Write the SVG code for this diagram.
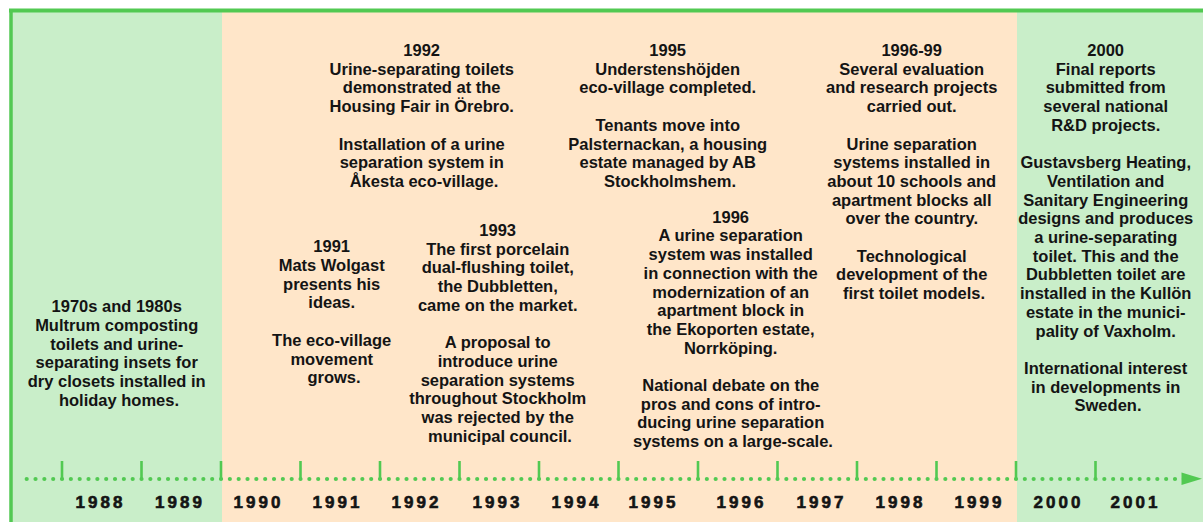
<svg xmlns="http://www.w3.org/2000/svg" width="1203" height="522" viewBox="0 0 1203 522">
<style>
.ev{font-family:"Liberation Sans",Arial,sans-serif;font-weight:bold;font-size:16.5px;fill:#141414;text-anchor:middle}
.yr{font-family:"Liberation Sans",Arial,sans-serif;font-weight:bold;font-size:17px;fill:#141414;stroke:#141414;stroke-width:0.6;text-anchor:middle;letter-spacing:3px}
.tick{stroke:#52c952;stroke-width:2.6}
</style>
<g id="background">
<rect x="0" y="0" width="1203" height="522" fill="#ffffff"/>
<rect x="11" y="10" width="211" height="512" fill="#c9eec9"/>
<rect x="222" y="10" width="795" height="512" fill="#ffe6c9"/>
<rect x="1017" y="10" width="186" height="512" fill="#c9eec9"/>
<line x1="9" y1="10.5" x2="1203" y2="10.5" stroke="#52c952" stroke-width="4"/>
<line x1="11" y1="9" x2="11" y2="522" stroke="#52c952" stroke-width="3.5"/>
</g>
<g id="connectors">
<line x1="26.7" y1="479" x2="1184" y2="479" stroke="#52c952" stroke-width="4.2" stroke-linecap="round" stroke-dasharray="0 8.833"/>
<line class="tick" x1="62" y1="461" x2="62" y2="480"/>
<line class="tick" x1="141.5" y1="461" x2="141.5" y2="480"/>
<line class="tick" x1="221" y1="461" x2="221" y2="480"/>
<line class="tick" x1="300.5" y1="461" x2="300.5" y2="480"/>
<line class="tick" x1="380" y1="461" x2="380" y2="480"/>
<line class="tick" x1="459.5" y1="461" x2="459.5" y2="480"/>
<line class="tick" x1="539" y1="461" x2="539" y2="480"/>
<line class="tick" x1="618.5" y1="461" x2="618.5" y2="480"/>
<line class="tick" x1="698" y1="461" x2="698" y2="480"/>
<line class="tick" x1="777.5" y1="461" x2="777.5" y2="480"/>
<line class="tick" x1="857" y1="461" x2="857" y2="480"/>
<line class="tick" x1="936.5" y1="461" x2="936.5" y2="480"/>
<line class="tick" x1="1016" y1="461" x2="1016" y2="480"/>
<line class="tick" x1="1095.5" y1="461" x2="1095.5" y2="480"/>
<polygon points="1181.5,472.5 1202,478.8 1181.5,485" fill="#52c952"/>
</g>
<g id="years">
<text class="yr" x="100.5" y="508">1988</text>
<text class="yr" x="180" y="508">1989</text>
<text class="yr" x="258.5" y="508">1990</text>
<text class="yr" x="337.5" y="508">1991</text>
<text class="yr" x="416.5" y="508">1992</text>
<text class="yr" x="497.5" y="508">1993</text>
<text class="yr" x="576.5" y="508">1994</text>
<text class="yr" x="653.5" y="508">1995</text>
<text class="yr" x="741.5" y="508">1996</text>
<text class="yr" x="821.5" y="508">1997</text>
<text class="yr" x="900.5" y="508">1998</text>
<text class="yr" x="979.5" y="508">1999</text>
<text class="yr" x="1058.5" y="508">2000</text>
<text class="yr" x="1135.5" y="508">2001</text>
</g>
<g id="event-1970s">
<text class="ev" y="311.7">
<tspan x="119">1970s and 1980s</tspan>
<tspan x="119" dy="18.9">Multrum composting</tspan>
<tspan x="119" dy="18.9">toilets and urine-</tspan>
<tspan x="119" dy="18.9">separating insets for</tspan>
<tspan x="119" dy="18.9">dry closets installed in</tspan>
<tspan x="119" dy="18.9">holiday homes.</tspan>
</text>
</g>
<g id="event-1991">
<text class="ev" y="252.3">
<tspan x="334">1991</tspan>
<tspan x="334" dy="18.7">Mats Wolgast</tspan>
<tspan x="334" dy="18.7">presents his</tspan>
<tspan x="334" dy="18.7">ideas.</tspan>
<tspan x="334" dy="37.4">The eco-village</tspan>
<tspan x="334" dy="18.7">movement</tspan>
<tspan x="334" dy="18.7">grows.</tspan>
</text>
</g>
<g id="event-1992">
<text class="ev" y="56">
<tspan x="424">1992</tspan>
<tspan x="424" dy="18.7">Urine-separating toilets</tspan>
<tspan x="424" dy="18.7">demonstrated at the</tspan>
<tspan x="424" dy="18.7">Housing Fair in Örebro.</tspan>
<tspan x="424" dy="37.4">Installation of a urine</tspan>
<tspan x="424" dy="18.7">separation system in</tspan>
<tspan x="424" dy="18.7">Åkesta eco-village.</tspan>
</text>
</g>
<g id="event-1993">
<text class="ev" y="236">
<tspan x="500">1993</tspan>
<tspan x="500" dy="18.7">The first porcelain</tspan>
<tspan x="500" dy="18.7">dual-flushing toilet,</tspan>
<tspan x="500" dy="18.7">the Dubbletten,</tspan>
<tspan x="500" dy="18.7">came on the market.</tspan>
<tspan x="500" dy="37.4">A proposal to</tspan>
<tspan x="500" dy="18.7">introduce urine</tspan>
<tspan x="500" dy="18.7">separation systems</tspan>
<tspan x="500" dy="18.7">throughout Stockholm</tspan>
<tspan x="500" dy="18.7">was rejected by the</tspan>
<tspan x="500" dy="18.7">municipal council.</tspan>
</text>
</g>
<g id="event-1995">
<text class="ev" y="56">
<tspan x="670">1995</tspan>
<tspan x="670" dy="18.7">Understenshöjden</tspan>
<tspan x="670" dy="18.7">eco-village completed.</tspan>
<tspan x="670" dy="37.4">Tenants move into</tspan>
<tspan x="670" dy="18.7">Palsternackan, a housing</tspan>
<tspan x="670" dy="18.7">estate managed by AB</tspan>
<tspan x="670" dy="18.7">Stockholmshem.</tspan>
</text>
</g>
<g id="event-1996">
<text class="ev" y="222.7">
<tspan x="733">1996</tspan>
<tspan x="733" dy="18.7">A urine separation</tspan>
<tspan x="733" dy="18.7">system was installed</tspan>
<tspan x="733" dy="18.7">in connection with the</tspan>
<tspan x="733" dy="18.7">modernization of an</tspan>
<tspan x="733" dy="18.7">apartment block in</tspan>
<tspan x="733" dy="18.7">the Ekoporten estate,</tspan>
<tspan x="733" dy="18.7">Norrköping.</tspan>
<tspan x="733" dy="37.4">National debate on the</tspan>
<tspan x="733" dy="18.7">pros and cons of intro-</tspan>
<tspan x="733" dy="18.7">ducing urine separation</tspan>
<tspan x="733" dy="18.7">systems on a large-scale.</tspan>
</text>
</g>
<g id="event-1996-99">
<text class="ev" y="56">
<tspan x="914">1996-99</tspan>
<tspan x="914" dy="18.7">Several evaluation</tspan>
<tspan x="914" dy="18.7">and research projects</tspan>
<tspan x="914" dy="18.7">carried out.</tspan>
<tspan x="914" dy="37.4">Urine separation</tspan>
<tspan x="914" dy="18.7">systems installed in</tspan>
<tspan x="914" dy="18.7">about 10 schools and</tspan>
<tspan x="914" dy="18.7">apartment blocks all</tspan>
<tspan x="914" dy="18.7">over the country.</tspan>
<tspan x="914" dy="37.4">Technological</tspan>
<tspan x="914" dy="18.7">development of the</tspan>
<tspan x="914" dy="18.7">first toilet models.</tspan>
</text>
</g>
<g id="event-2000">
<text class="ev" y="56">
<tspan x="1108">2000</tspan>
<tspan x="1108" dy="18.7">Final reports</tspan>
<tspan x="1108" dy="18.7">submitted from</tspan>
<tspan x="1108" dy="18.7">several national</tspan>
<tspan x="1108" dy="18.7">R&amp;D projects.</tspan>
<tspan x="1108" dy="37.4">Gustavsberg Heating,</tspan>
<tspan x="1108" dy="18.7">Ventilation and</tspan>
<tspan x="1108" dy="18.7">Sanitary Engineering</tspan>
<tspan x="1108" dy="18.7">designs and produces</tspan>
<tspan x="1108" dy="18.7">a urine-separating</tspan>
<tspan x="1108" dy="18.7">toilet. This and the</tspan>
<tspan x="1108" dy="18.7">Dubbletten toilet are</tspan>
<tspan x="1108" dy="18.7">installed in the Kullön</tspan>
<tspan x="1108" dy="18.7">estate in the munici-</tspan>
<tspan x="1108" dy="18.7">pality of Vaxholm.</tspan>
<tspan x="1108" dy="37.4">International interest</tspan>
<tspan x="1108" dy="18.7">in developments in</tspan>
<tspan x="1108" dy="18.7">Sweden.</tspan>
</text>
</g>
</svg>
